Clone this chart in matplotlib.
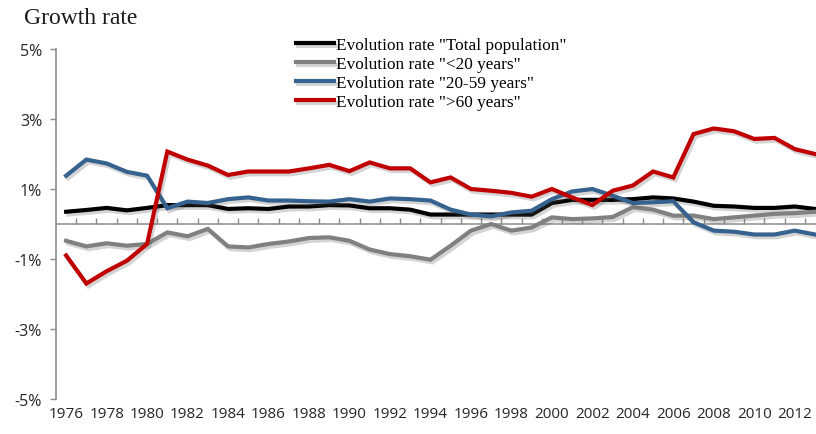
import numpy as np
import matplotlib
matplotlib.use('Agg')
import matplotlib.pyplot as plt
import matplotlib.patheffects as pe
from matplotlib.ticker import FuncFormatter

years = np.arange(1976, 2014)

total = [0.35, 0.40, 0.46, 0.39, 0.46, 0.54, 0.54, 0.54, 0.43, 0.45,
         0.43, 0.50, 0.50, 0.54, 0.53, 0.45, 0.45, 0.41, 0.27, 0.27,
         0.27, 0.27, 0.27, 0.27, 0.60, 0.69, 0.69, 0.69, 0.71, 0.76,
         0.73, 0.64, 0.52, 0.50, 0.46, 0.46, 0.50, 0.43]
under20 = [-0.48, -0.64, -0.55, -0.62, -0.57, -0.24, -0.35, -0.14, -0.64, -0.67,
           -0.57, -0.50, -0.40, -0.38, -0.48, -0.73, -0.86, -0.92, -1.02, -0.62,
           -0.19, 0.0, -0.19, -0.10, 0.19, 0.14, 0.16, 0.20, 0.48, 0.41,
           0.24, 0.24, 0.14, 0.19, 0.24, 0.29, 0.31, 0.35]
age20_59 = [1.38, 1.84, 1.73, 1.49, 1.38, 0.45, 0.64, 0.60, 0.71, 0.76,
            0.67, 0.67, 0.65, 0.64, 0.71, 0.64, 0.73, 0.71, 0.67, 0.41,
            0.27, 0.22, 0.33, 0.38, 0.71, 0.93, 1.00, 0.81, 0.60, 0.62,
            0.65, 0.05, -0.19, -0.22, -0.30, -0.30, -0.19, -0.30]
over60 = [-0.90, -1.70, -1.35, -1.05, -0.57, 2.07, 1.84, 1.67, 1.40, 1.50,
          1.50, 1.50, 1.59, 1.69, 1.51, 1.76, 1.59, 1.59, 1.19, 1.33,
          1.00, 0.95, 0.89, 0.78, 1.00, 0.76, 0.54, 0.95, 1.10, 1.50,
          1.33, 2.57, 2.73, 2.65, 2.43, 2.46, 2.14, 2.00]

labels = ['Evolution rate "Total population"', 'Evolution rate "<20 years"',
          'Evolution rate "20-59 years"', 'Evolution rate ">60 years"']
colors = ['#000000', '#808080', '#35628F', '#C00000']
series = [total, under20, age20_59, over60]

tick_font = ['Open Sans', 'DejaVu Sans']
serif = ['Liberation Serif', 'DejaVu Serif']
axis_grey = '#8c8c8c'

fig = plt.figure(figsize=(8.16, 4.35), dpi=100)
ax = fig.add_axes([56 / 816, 35 / 435, 760 / 816, 350 / 435])

# horizontal category axis at zero
ax.axhline(0, color=axis_grey, lw=1.1, zorder=1)

shadow = [pe.SimpleLineShadow(offset=(1.5, -2), shadow_color='#555555', alpha=0.25),
          pe.Normal()]
for vals, c, lab in zip(series, colors, labels):
    ax.plot(years, vals, color=c, lw=3, label=lab, solid_joinstyle='miter',
            path_effects=shadow, clip_on=False, zorder=2)

ax.set_xlim(1975.5, 2013.05)
ax.set_ylim(-5, 5)

for s in ['top', 'right', 'bottom']:
    ax.spines[s].set_visible(False)
ax.spines['left'].set_color(axis_grey)
ax.spines['left'].set_linewidth(1.2)

ax.set_yticks([-5, -3, -1, 1, 3, 5])
ax.yaxis.set_major_formatter(FuncFormatter(lambda v, p: '%d%%' % v))
ax.tick_params(axis='y', direction='out', length=4, width=1, color=axis_grey,
               pad=6, labelsize=11.5, labelcolor='#262626')
ax.set_xticks(years[::2])
ax.tick_params(axis='x', length=0, pad=5, labelsize=11, labelcolor='#262626')
for t in ax.get_xticklabels() + ax.get_yticklabels():
    t.set_family(tick_font)

# tick marks between categories on the zero line
zax = ax.secondary_xaxis(0.5)
zax.set_xticks(years[:-1] + 0.5)
zax.set_xticklabels([])
for sp in zax.spines.values():
    sp.set_visible(False)
zax.tick_params(axis='x', direction='out', length=4, width=1, color=axis_grey)

fig.text(24 / 816, 1 - 18 / 435, 'Growth rate', family=serif, fontsize=17,
         va='center', ha='left', color='#1a1a1a')

fig.legend(loc='upper left', bbox_to_anchor=(296 / 816, 1 - 38 / 435),
           frameon=False, borderpad=0, borderaxespad=0, handlelength=2.2,
           handletextpad=0.15, labelspacing=0.17,
           prop={'family': serif, 'size': 12.4})

fig.savefig('out.png', dpi=100)
